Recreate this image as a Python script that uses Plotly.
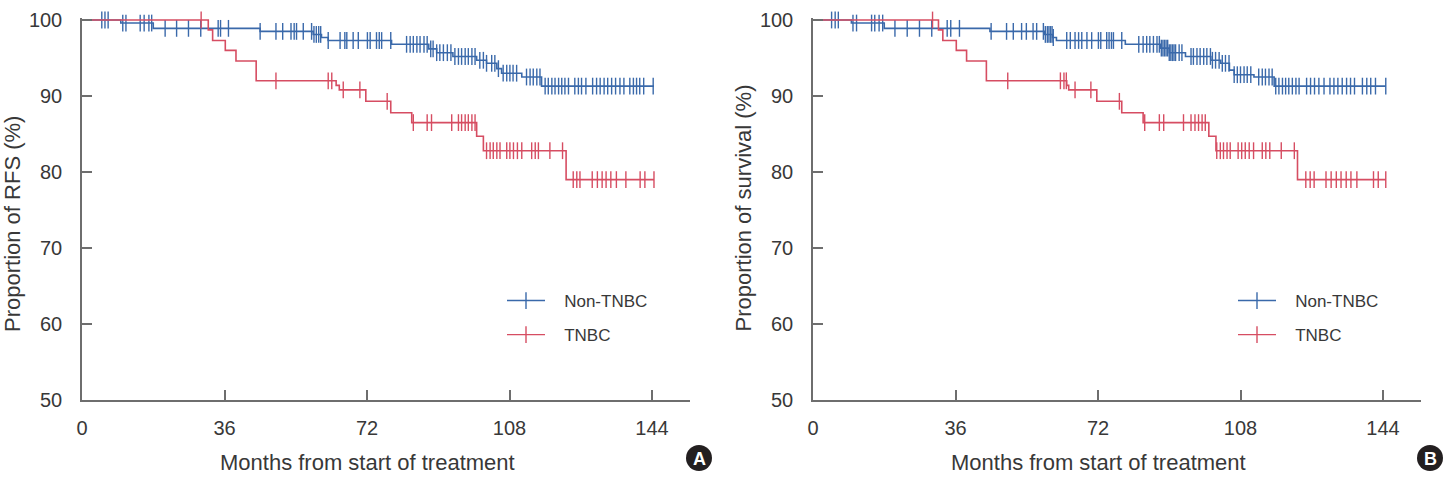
import bisect
import plotly.graph_objects as go

# ---------------- data ----------------
# Panel A (RFS)
a_non_t = [0, 9.8, 18.0, 45.0, 58.4, 60.5, 62.2, 78.2, 87.6, 89.6, 93.7, 99.7, 102.2, 104.8, 106.0, 111.1, 116.1]
a_non_s = [100, 99.6, 98.9, 98.5, 98.1, 97.7, 97.3, 96.8, 96.2, 95.7, 95.2, 94.7, 94.3, 93.6, 93.0, 92.5, 91.3]
a_non_end = 144.5
a_non_cens = [5.0, 5.8, 6.6, 10.3, 11.1, 14.7, 15.7, 16.9, 17.6, 21.0, 23.9, 26.9, 30.0, 34.4, 35.0, 37.0,
              45.0, 49.0, 50.7, 52.8, 53.6, 54.2, 55.9, 58.0, 58.6, 59.2, 59.8, 60.3, 62.2, 65.2, 66.4, 66.9,
              68.5, 69.8, 72.1, 72.8, 74.4, 75.1, 75.7, 78.0, 82.0, 82.9, 83.7, 84.6, 85.4, 86.4, 87.2, 88.1,
              88.7, 89.6, 90.4, 91.3, 92.3, 93.2, 94.2, 95.1, 95.9, 96.8, 97.6, 98.5, 99.3, 100.5, 101.4,
              102.2, 103.5, 104.3, 105.2, 106.4, 107.3, 108.1, 108.9, 109.8, 112.3, 113.2, 114.0, 114.9,
              115.7, 117.0, 117.8, 118.7, 119.5, 120.4, 121.2, 122.0, 122.9, 124.5, 125.4, 126.2, 127.3,
              129.0, 130.0, 130.9, 131.9, 132.8, 133.8, 134.8, 135.9, 136.9, 138.4, 139.3, 140.1, 140.9,
              141.9, 144.3]
a_tn_t = [0, 31.9, 33.0, 36.2, 38.9, 44.0, 64.2, 65.0, 71.7, 78.0, 83.3, 99.7, 101.4, 122.3]
a_tn_s = [100, 98.7, 97.3, 96.0, 94.6, 92.0, 91.4, 90.8, 89.3, 87.8, 86.5, 84.7, 82.8, 79.0]
a_tn_end = 144.5
a_tn_cens = [30.1, 49.0, 62.2, 63.1, 66.0, 70.2, 77.1, 83.7, 87.2, 88.3, 93.4, 95.1, 95.9, 96.8, 97.6, 98.5,
             99.3, 102.2, 103.1, 103.9, 104.8, 105.6, 107.3, 108.1, 109.0, 110.0, 111.1, 113.6, 114.5, 115.3,
             118.2, 121.4, 124.1, 125.0, 125.8, 128.9, 130.2, 131.4, 132.4, 133.6, 135.0, 137.4, 141.0,
             142.2, 144.5]

# Panel B (survival)
b_non_t = [0, 9.7, 18.0, 44.7, 58.5, 60.5, 61.5, 78.9, 87.8, 90.0, 94.1, 100.5, 103.0, 105.2, 106.4, 111.4, 116.5]
b_non_s = [100, 99.6, 98.9, 98.5, 98.1, 97.7, 97.3, 96.8, 96.3, 95.7, 95.2, 94.7, 94.3, 93.4, 92.8, 92.5, 91.3]
b_non_end = 144.7
b_non_cens = [4.7, 5.6, 6.4, 10.1, 11.0, 14.8, 15.6, 16.7, 17.6, 20.7, 23.8, 26.9, 30.0, 33.9, 34.8, 37.0,
              45.0, 48.9, 50.6, 52.7, 53.9, 55.6, 56.5, 58.2, 58.7, 59.2, 59.6, 60.0, 60.4, 60.7, 64.1, 65.0,
              66.2, 67.1, 67.9, 69.2, 70.4, 72.1, 72.7, 74.2, 74.8, 75.4, 75.9, 78.0, 82.3, 83.4, 84.3, 85.1,
              86.0, 86.9, 87.5, 88.0, 88.4, 88.8, 89.2, 89.6, 90.0, 90.4, 90.8, 91.2, 91.6, 92.5, 93.2, 95.5,
              96.1, 97.0, 97.8, 98.7, 99.5, 100.4, 100.9, 101.7, 102.6, 103.4, 104.2, 105.1, 106.4, 107.2,
              108.0, 108.9, 109.7, 110.6, 112.6, 113.5, 114.3, 115.2, 116.0, 116.9, 117.7, 118.6, 119.4,
              120.2, 121.1, 122.0, 122.8, 124.7, 125.7, 126.7, 127.8, 129.1, 130.6, 131.6, 132.6, 133.7,
              134.8, 135.8, 136.8, 138.8, 139.9, 140.9, 142.1, 144.7]
b_tn_t = [0, 31.7, 32.8, 36.2, 38.8, 43.8, 64.1, 64.6, 71.7, 78.0, 83.4, 100.0, 101.8, 122.4]
b_tn_s = [100, 98.7, 97.3, 96.0, 94.6, 92.0, 91.4, 90.8, 89.3, 87.8, 86.5, 84.7, 82.8, 79.0]
b_tn_end = 144.7
b_tn_cens = [30.2, 49.2, 62.5, 63.4, 64.0, 66.2, 70.2, 77.4, 83.8, 87.5, 88.6, 93.6, 95.5, 96.5, 97.4, 98.3,
             99.1, 102.0, 102.9, 103.7, 104.6, 105.4, 107.4, 108.3, 109.2, 110.2, 111.3, 113.5, 114.4, 115.4,
             118.3, 121.6, 124.5, 125.6, 126.6, 129.6, 130.9, 132.2, 133.4, 134.7, 135.9, 137.4, 141.6,
             142.8, 144.7]

x_ticks = [0, 36, 72, 108, 144]
y_ticks = [50, 60, 70, 80, 90, 100]
groups = ["Non-TNBC", "TNBC"]
x_title = "Months from start of treatment"
y_titles = ["Proportion of RFS (%)", "Proportion of survival (%)"]
badges = ["A", "B"]

# ---------------- style ----------------
W, H = 1443, 480
BLUE = "#3a69aa"
RED = "#d64d62"
AX = "#6e6e6e"
TXT = "#383838"
FONT = "Liberation Sans, Arial, sans-serif"
PAD = "\u00a0\u00a0\u00a0"


def step_value(times, surv, t):
    i = bisect.bisect_right(times, t) - 1
    return surv[max(i, 0)]


fig = go.Figure()

panels = [
    ("x", "y", "legend", [(a_non_t, a_non_s, a_non_end, a_non_cens, BLUE), (a_tn_t, a_tn_s, a_tn_end, a_tn_cens, RED)]),
    ("x2", "y2", "legend2", [(b_non_t, b_non_s, b_non_end, b_non_cens, BLUE), (b_tn_t, b_tn_s, b_tn_end, b_tn_cens, RED)]),
]

for xa, ya, leg, series in panels:
    for (t, s, end, cens, col), name in zip(series, groups):
        fig.add_trace(go.Scatter(
            x=list(t) + [end], y=list(s) + [s[-1]], mode="lines", line=dict(color=col, width=1.6, shape="hv"),
            xaxis=xa, yaxis=ya, showlegend=False, hoverinfo="skip", cliponaxis=False))
        fig.add_trace(go.Scatter(
            x=cens, y=[step_value(t, s, c) for c in cens], mode="markers",
            marker=dict(symbol="line-ns", size=12, line=dict(color=col, width=1.4)),
            xaxis=xa, yaxis=ya, showlegend=False, cliponaxis=False, hoverinfo="skip"))
        fig.add_trace(go.Scatter(
            x=[None], y=[None], mode="lines+markers", name=PAD + name, legend=leg, legendgroup=leg + name,
            line=dict(color=col, width=1.4),
            marker=dict(symbol="line-ns", size=12, line=dict(color=col, width=1.4)),
            xaxis=xa, yaxis=ya))

# pixel geometry
y_dom = [1 - 400 / H, 1 - 18.1 / H]
xdoms = [[82 / W, 690 / W], [813 / W, 1421 / W]]

axis_common = dict(showline=True, linecolor=AX, linewidth=1.5, ticks="inside", ticklen=10, tickwidth=1.5,
                   tickcolor=AX, showgrid=False, zeroline=False, automargin=False,
                   tickfont=dict(family=FONT, size=20, color=TXT))

leg_common = dict(xanchor="left", yanchor="top", bgcolor="rgba(0,0,0,0)",
                  font=dict(family=FONT, size=17, color=TXT), tracegroupgap=9, itemwidth=38)

fig.update_layout(
    width=W, height=H, margin=dict(l=0, r=0, t=0, b=0, autoexpand=False),
    paper_bgcolor="white", plot_bgcolor="white",
    font=dict(family=FONT, color=TXT),
    xaxis=dict(domain=xdoms[0], range=[0, 153.6], tickvals=x_ticks, anchor="y", ticklabelstandoff=9, **axis_common),
    yaxis=dict(domain=y_dom, range=[50, 100.25], tickvals=y_ticks, anchor="x", ticklabelstandoff=14, **axis_common),
    xaxis2=dict(domain=xdoms[1], range=[0, 153.6], tickvals=x_ticks, anchor="y2", ticklabelstandoff=9, **axis_common),
    yaxis2=dict(domain=y_dom, range=[50, 100.25], tickvals=y_ticks, anchor="x2", ticklabelstandoff=14, **axis_common),
    legend=dict(x=502 / W, y=1 - 283 / H, **leg_common),
    legend2=dict(x=1233 / W, y=1 - 283 / H, **leg_common),
    showlegend=True,
)

ann = []
for i, (xr, ytitle, badge) in enumerate(zip(["x", "x2"], y_titles, badges)):
    ann.append(dict(text=x_title, xref=xr, x=72, yref="paper", y=1 - 462 / H, xanchor="center", yanchor="middle",
                    showarrow=False, font=dict(family=FONT, size=22, color=TXT)))
    ax_px = [82, 813][i]
    ann.append(dict(text=ytitle, xref="paper", x=(ax_px - 70) / W, yref="paper", y=1 - 334 / H, textangle=-90,
                    xanchor="center", yanchor="bottom", showarrow=False, font=dict(family=FONT, size=22, color=TXT)))
fig.update_layout(annotations=ann)

# badges
shapes = []
for cx, letter in zip([699, 1430], badges):
    shapes.append(dict(type="circle", xref="paper", yref="paper", x0=(cx - 13) / W, x1=(cx + 13) / W,
                       y0=1 - 471 / H, y1=1 - 445 / H, fillcolor="#231f20", line=dict(color="#231f20", width=0)))
    fig.add_annotation(text="<b>%s</b>" % letter, xref="paper", yref="paper", x=cx / W, y=1 - 458.5 / H,
                       xanchor="center", yanchor="middle", showarrow=False,
                       font=dict(family=FONT, size=18, color="white"))
fig.update_layout(shapes=shapes)

fig.write_html("out.html", config={"displayModeBar": False})
